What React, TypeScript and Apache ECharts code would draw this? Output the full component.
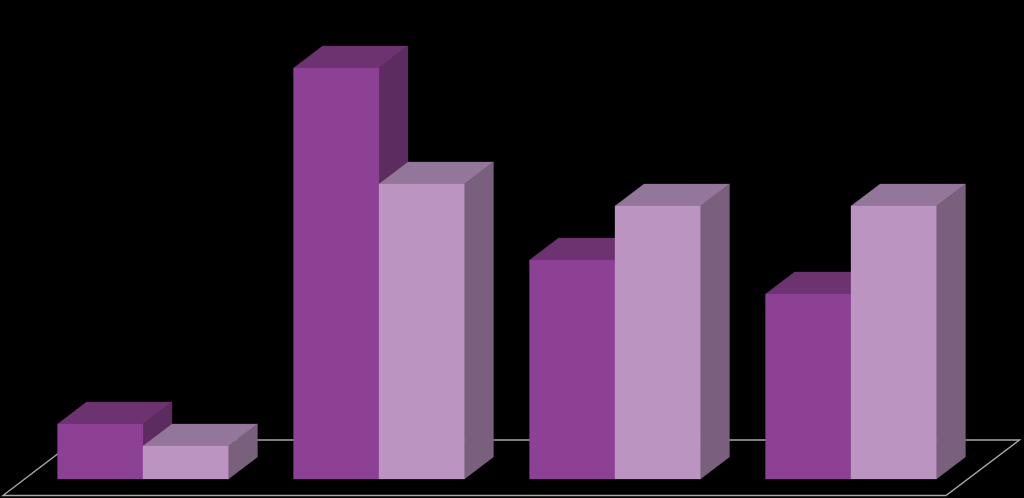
import React, { useEffect, useRef } from "react";
import * as echarts from "echarts";

const categories = ["A", "B", "C", "D"];
const darkValues = [55, 411, 219, 185];
const lightValues = [33, 295, 273, 273];

const WIDTH = 1024;
const HEIGHT = 498;
const BASE_Y = 479;
const BAR_WIDTH = 85.5;
const DEPTH_X = 29;
const DEPTH_Y = 22;

const darkPalette = { front: "#8d4194", top: "#6c3370", side: "#5c2b60" };
const lightPalette = { front: "#bc94c2", top: "#93769a", side: "#79617e" };

function bars3d(offsetSign: number, palette: { front: string; top: string; side: string }) {
  return (params: any, api: any) => {
    const idx = api.value(0);
    const [cx, y] = api.coord([idx, api.value(1)]);
    const [, y0] = api.coord([idx, 0]);
    const x0 = offsetSign < 0 ? cx - BAR_WIDTH : cx;
    const x1 = x0 + BAR_WIDTH;
    const poly = (points: number[][], fill: string) => ({
      type: "polygon",
      shape: { points },
      style: { fill, stroke: fill, lineWidth: 0.3 },
    });
    return {
      type: "group",
      children: [
        poly(
          [
            [x1, y],
            [x1 + DEPTH_X, y - DEPTH_Y],
            [x1 + DEPTH_X, y0 - DEPTH_Y],
            [x1, y0],
          ],
          palette.side
        ),
        poly(
          [
            [x0, y],
            [x0 + DEPTH_X, y - DEPTH_Y],
            [x1 + DEPTH_X, y - DEPTH_Y],
            [x1, y],
          ],
          palette.top
        ),
        poly(
          [
            [x0, y],
            [x1, y],
            [x1, y0],
            [x0, y0],
          ],
          palette.front
        ),
      ],
    };
  };
}

export default function App() {
  const ref = useRef<HTMLDivElement>(null);
  useEffect(() => {
    document.body.style.margin = "0";
    document.body.style.background = "#000";
    const chart = echarts.init(ref.current!, undefined, { renderer: "svg" });
    chart.setOption({
      animation: false,
      backgroundColor: "#000000",
      grid: { left: 25, width: 944, top: 0, height: BASE_Y },
      xAxis: { type: "category", data: categories, show: false },
      yAxis: { type: "value", min: 0, max: BASE_Y, show: false },
      graphic: [
        {
          type: "polygon",
          z: 0,
          shape: {
            points: [
              [3, 495.5],
              [76, 440],
              [1019.5, 440],
              [946, 495.5],
            ],
          },
          style: { fill: "none", stroke: "#a8a8a8", lineWidth: 1.4 },
        },
      ],
      series: [
        {
          type: "custom",
          name: "Series 1",
          z: 3,
          clip: false,
          renderItem: bars3d(-1, darkPalette),
          encode: { x: 0, y: 1 },
          data: darkValues.map((v, i) => [i, v]),
        },
        {
          type: "custom",
          name: "Series 2",
          z: 4,
          clip: false,
          renderItem: bars3d(1, lightPalette),
          encode: { x: 0, y: 1 },
          data: lightValues.map((v, i) => [i, v]),
        },
      ],
    });
    return () => chart.dispose();
  }, []);
  return <div ref={ref} style={{ width: WIDTH, height: HEIGHT }} />;
}
